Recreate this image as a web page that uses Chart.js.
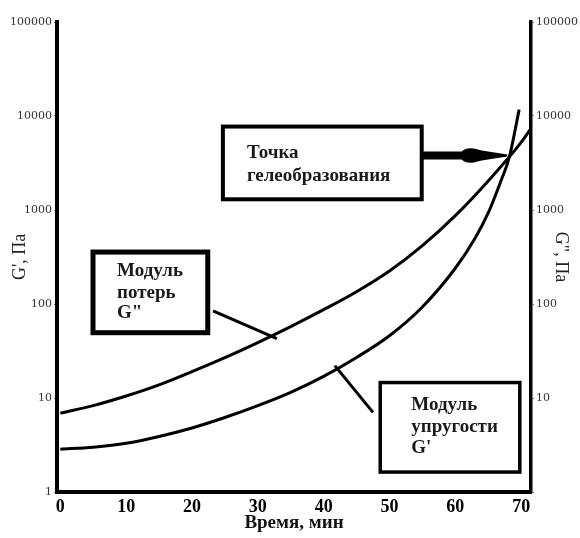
<!DOCTYPE html>
<html>
<head>
<meta charset="utf-8">
<script src="https://cdn.jsdelivr.net/npm/chart.js@4"></script>
<style>
  html, body { margin: 0; padding: 0; background: #fff; }
</style>
</head>
<body>
<canvas id="chart" width="580" height="538"></canvas>
<script>
// DATA (time in min, moduli in Pa)
const timeLoss = [0, 5, 10, 15, 20, 25, 30, 35, 40, 45, 50, 55, 60, 65, 70, 71.5];
const lossModulus = [6.9, 8.3, 10.5, 13.8, 19.1, 26.9, 38.9, 57.5, 87, 135, 224, 417, 871, 2040, 5250, 7400]; // G''
const timeStorage = [0, 5, 10, 15, 20, 25, 30, 35, 40, 45, 50, 55, 60, 63, 65, 67, 68.2, 69.7];
const storageModulus = [2.85, 3.0, 3.3, 3.9, 4.8, 6.2, 8.3, 11.5, 17, 27, 46, 93, 240, 500, 930, 2100, 3630, 11700]; // G'
const xTicks = [0, 10, 20, 30, 40, 50, 60, 70];
const yTicks = [1, 10, 100, 1000, 10000, 100000];

const serif = 'Liberation Serif';

// ANNOTATIONS (boxes / pointers placed in data units)
const boxes = [
  { x0: 24.7, x1: 54.9, y0: 7720, y1: 1300, border: 4, lines: ['Точка', 'гелеобразования'], tx: 24, ty: [27, 50] },
  { x0: 4.97, x1: 22.4, y0: 357, y1: 49.5, border: 5, lines: ['Модуль', 'потерь', 'G"'], tx: 24, ty: [19, 41, 61] },
  { x0: 48.6, x1: 69.8, y0: 14.6, y1: 1.63, border: 3.5, lines: ['Модуль', 'упругости', "G'"], tx: 31, ty: [23, 45, 66] },
];
const pointers = [
  { x0: 23.2, y0: 84.7, x1: 32.9, y1: 42.8 },
  { x0: 41.7, y0: 22.1, x1: 47.5, y1: 7.04 },
];
const arrow = { x0: 54.9, x1: 67.9, y: 3800 };

const notesPlugin = {
  id: 'notes',
  afterDatasetsDraw(chart) {
    const { ctx, scales: { x, y } } = chart;
    ctx.save();
    ctx.strokeStyle = '#000';
    ctx.fillStyle = '#000';
    ctx.lineCap = 'butt';

    // pointer lines
    pointers.forEach(p => {
      ctx.lineWidth = 3;
      ctx.beginPath();
      ctx.moveTo(x.getPixelForValue(p.x0), y.getPixelForValue(p.y0));
      ctx.lineTo(x.getPixelForValue(p.x1), y.getPixelForValue(p.y1));
      ctx.stroke();
    });

    // arrow to the gel point
    const ax0 = x.getPixelForValue(arrow.x0);
    const ax1 = x.getPixelForValue(arrow.x1);
    const ay = y.getPixelForValue(arrow.y);
    ctx.beginPath();
    ctx.moveTo(ax0, ay - 4);
    ctx.lineTo(ax0 + 40, ay - 4);
    ctx.quadraticCurveTo(ax0 + 44, ay - 8, ax0 + 52, ay - 7);
    ctx.lineTo(ax0 + 60, ay - 5);
    ctx.lineTo(ax1, ay - 1);
    ctx.lineTo(ax1, ay + 1);
    ctx.lineTo(ax0 + 60, ay + 5);
    ctx.lineTo(ax0 + 52, ay + 7);
    ctx.quadraticCurveTo(ax0 + 44, ay + 8, ax0 + 40, ay + 4);
    ctx.lineTo(ax0, ay + 4);
    ctx.closePath();
    ctx.fill();

    // boxes with text
    boxes.forEach(b => {
      const left = x.getPixelForValue(b.x0);
      const right = x.getPixelForValue(b.x1);
      const top = y.getPixelForValue(b.y0);
      const bottom = y.getPixelForValue(b.y1);
      ctx.fillStyle = '#fff';
      ctx.fillRect(left, top, right - left, bottom - top);
      ctx.lineWidth = b.border;
      ctx.strokeRect(left, top, right - left, bottom - top);
      ctx.fillStyle = '#1a1a1a';
      ctx.font = 'bold 19px "' + serif + '"';
      ctx.textBaseline = 'middle';
      ctx.textAlign = 'left';
      b.lines.forEach((t, i) => ctx.fillText(t, left + b.tx, top + b.ty[i]));
    });
    ctx.restore();
  }
};

const decadeTicks = s => { s.ticks = yTicks.map(v => ({ value: v })); };

new Chart(document.getElementById('chart'), {
  type: 'line',
  data: {
    datasets: [
      {
        label: "G''",
        data: timeLoss.map((t, i) => ({ x: t, y: lossModulus[i] })),
        borderColor: '#000',
        borderWidth: 3,
        pointRadius: 0,
        cubicInterpolationMode: 'monotone',
        yAxisID: 'y',
      },
      {
        label: "G'",
        data: timeStorage.map((t, i) => ({ x: t, y: storageModulus[i] })),
        borderColor: '#000',
        borderWidth: 3,
        pointRadius: 0,
        cubicInterpolationMode: 'monotone',
        yAxisID: 'y',
      },
    ],
  },
  options: {
    responsive: false,
    animation: false,
    layout: { padding: { top: 22, right: 0, bottom: 0, left: 0 } },
    plugins: { legend: { display: false }, tooltip: { enabled: false } },
    scales: {
      x: {
        type: 'linear',
        min: -0.5,
        max: 71.5,
        afterBuildTicks: s => { s.ticks = xTicks.map(v => ({ value: v })); },
        afterFit: s => { s.height = 46; },
        grid: { display: false, drawTicks: false },
        border: { display: true, color: '#000', width: 4 },
        ticks: {
          color: '#000',
          font: { family: serif, size: 18, weight: 'bold' },
          padding: 5,
          maxRotation: 0,
          autoSkip: false,
        },
        title: {
          display: true,
          text: 'Время, мин',
          color: '#111',
          font: { family: serif, size: 19, weight: 'bold' },
          padding: { top: 0, bottom: 4 },
        },
      },
      y: {
        type: 'logarithmic',
        position: 'left',
        min: 1,
        max: 100000,
        afterBuildTicks: decadeTicks,
        afterFit: s => { s.width = 57; },
        grid: { drawOnChartArea: false, drawTicks: true, tickLength: 3, color: '#777' },
        border: { display: true, color: '#000', width: 4 },
        ticks: {
          autoSkip: false,
          callback: v => String(v),
          color: '#333',
          font: { family: 'DejaVu Serif', size: 11 },
          padding: 2,
        },
        title: {
          display: true,
          text: "G', Па",
          color: '#222',
          font: { family: serif, size: 18 },
          padding: { top: 9, bottom: 0 },
        },
      },
      y2: {
        type: 'logarithmic',
        position: 'right',
        min: 1,
        max: 100000,
        afterBuildTicks: decadeTicks,
        afterFit: s => { s.width = 49; },
        grid: { drawOnChartArea: false, drawTicks: true, tickLength: 3, color: '#777' },
        border: { display: true, color: '#000', width: 3.5 },
        ticks: {
          autoSkip: false,
          callback: v => (v === 1 ? '' : String(v)),
          color: '#333',
          font: { family: 'DejaVu Serif', size: 11 },
          padding: 2,
        },
        title: {
          display: true,
          text: 'G", Па',
          color: '#222',
          font: { family: serif, size: 18 },
          padding: { top: 8, bottom: 0 },
        },
      },
    },
  },
  plugins: [notesPlugin],
});
</script>
</body>
</html>
